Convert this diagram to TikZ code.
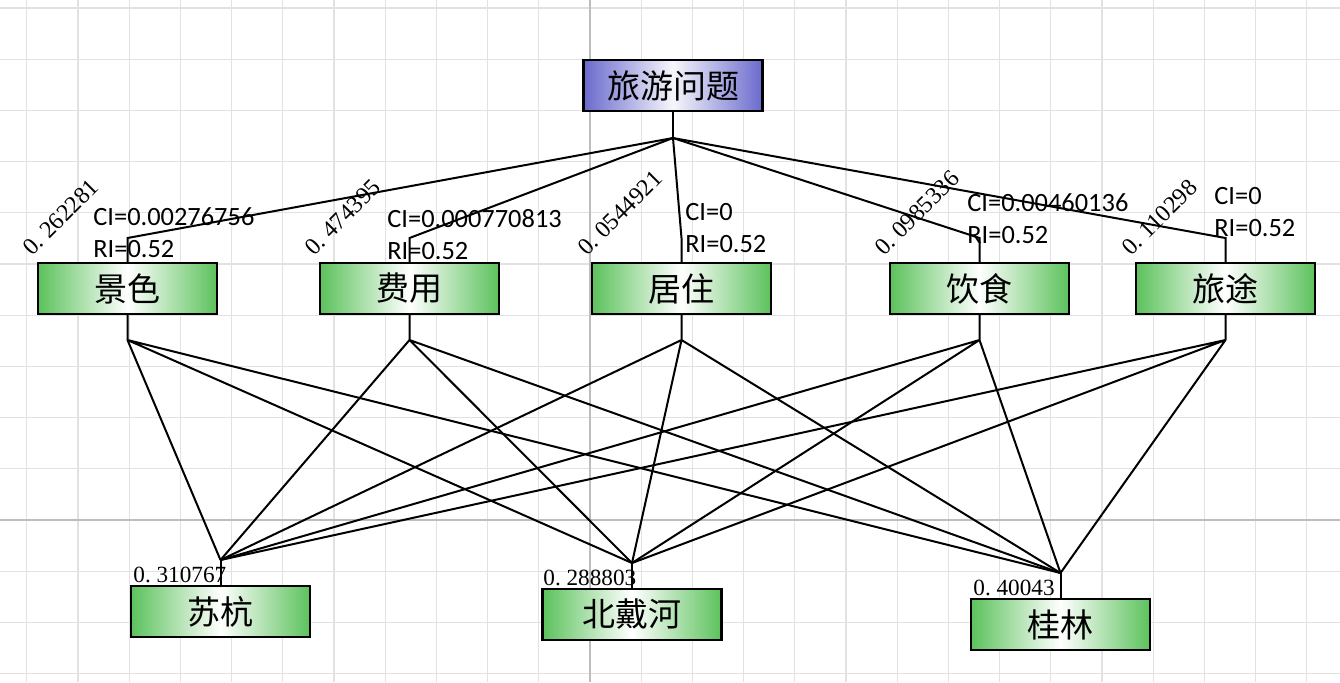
\documentclass[tikz,border=0pt]{standalone}
\usepackage{fontspec}
\usepackage{xcolor}
\newfontfamily\cjk{Noto Sans CJK SC}
\newfontfamily\calib{Carlito}
\newfontfamily\numfont{Liberation Serif}
\definecolor{boxGreen}{HTML}{5CC25C}
\definecolor{boxBlue}{HTML}{6A6ACD}
\definecolor{gridLight}{HTML}{E2E2E2}
\definecolor{gridDark}{HTML}{BDBDBD}

\tikzset{
  goalbox/.style={draw, line width=1.2pt, minimum width=89.5pt, minimum height=25.5pt,
    left color=boxBlue, right color=boxBlue, middle color=boxBlue!6,
    font=\cjk\fontsize{16.5}{18}\selectfont},
  critbox/.style={draw, line width=1.2pt, minimum width=89.5pt, minimum height=25.5pt,
    left color=boxGreen, right color=boxGreen, middle color=white,
    font=\cjk\fontsize{16.5}{18}\selectfont},
  link/.style={line width=1pt},
  consist/.style={anchor=west, inner sep=0pt, align=left,
    font=\calib\fontsize{13.2}{16}\selectfont},
  weight/.style={anchor=base west, inner sep=0pt, rotate=45,
    font=\numfont\fontsize{12}{13}\selectfont},
  score/.style={anchor=base west, inner sep=0pt,
    font=\numfont\fontsize{11.6}{13}\selectfont}
}

\begin{document}
\begin{tikzpicture}[x=0.5pt, y=-0.5pt]
    \useasboundingbox (0,0) rectangle (1340,682);

    % Background grid
    \foreach \k in {0,...,25}
      \draw[gridLight, line width=0.6pt] ({26.8+51.2*\k},0) -- ({26.8+51.2*\k},682);
    \foreach \k in {0,...,13}
      \draw[gridLight, line width=0.6pt] (0,{8+51.2*\k}) -- (1340,{8+51.2*\k});
    \draw[gridDark, line width=0.6pt] (590,0) -- (590,682);
    \draw[gridDark, line width=0.6pt] (0,520) -- (1340,520);

    % Goal
    \node[goalbox] (goal) at (673,85.5) {旅游问题};
    \coordinate (goalJ) at (673,138);

    % Criteria
    \node[critbox] (scenery) at (127.5,288.5) {景色};
    \node[critbox] (cost)    at (409.5,288.5) {费用};
    \node[critbox] (stay)    at (681.5,288.5) {居住};
    \node[critbox] (food)    at (979.5,288.5) {饮食};
    \node[critbox] (travel)  at (1225.5,288.5) {旅途};

    \coordinate (sceneryT) at (127.5,238);
    \coordinate (costT)    at (409.5,238);
    \coordinate (stayT)    at (681.5,238);
    \coordinate (foodT)    at (979.5,238);
    \coordinate (travelT)  at (1225.5,238);
    \coordinate (sceneryB) at (127.5,340);
    \coordinate (costB)    at (409.5,340);
    \coordinate (stayB)    at (681.5,340);
    \coordinate (foodB)    at (979.5,340);
    \coordinate (travelB)  at (1225.5,340);

    % Alternatives
    \node[critbox] (suhang)  at (220.5,611.5) {苏杭};
    \node[critbox] (beidai)  at (632,614.5) {北戴河};
    \node[critbox] (guilin)  at (1060.5,624.5) {桂林};

    \coordinate (suhangT) at (220.5,560);
    \coordinate (beidaiT) at (632,563);
    \coordinate (guilinT) at (1060.5,573);

    % Goal to criteria
    \draw[link] (goal.south) -- (goalJ);
    \draw[link] (goalJ) -- (sceneryT) -- (scenery.north);
    \draw[link] (goalJ) -- (costT) -- (cost.north);
    \draw[link] (goalJ) -- (stayT) -- (stay.north);
    \draw[link] (goalJ) -- (foodT) -- (food.north);
    \draw[link] (goalJ) -- (travelT) -- (travel.north);

    % Criteria to alternatives
    \draw[link] (scenery.south) -- (sceneryB) (sceneryB) -- (suhangT) (sceneryB) -- (beidaiT) (sceneryB) -- (guilinT);
    \draw[link] (cost.south) -- (costB) (costB) -- (suhangT) (costB) -- (beidaiT) (costB) -- (guilinT);
    \draw[link] (stay.south) -- (stayB) (stayB) -- (suhangT) (stayB) -- (beidaiT) (stayB) -- (guilinT);
    \draw[link] (food.south) -- (foodB) (foodB) -- (suhangT) (foodB) -- (beidaiT) (foodB) -- (guilinT);
    \draw[link] (travel.south) -- (travelB) (travelB) -- (suhangT) (travelB) -- (beidaiT) (travelB) -- (guilinT);
    \draw[link] (suhangT) -- (suhang.north);
    \draw[link] (beidaiT) -- (beidai.north);
    \draw[link] (guilinT) -- (guilin.north);

    % Consistency checks
    \node[consist] (ciScenery) at (93,232.5) {CI=0.00276756\\RI=0.52};
    \node[consist] (ciCost)    at (387,234.5) {CI=0.000770813\\RI=0.52};
    \node[consist] (ciStay)    at (685,228) {CI=0\\RI=0.52};
    \node[consist] (ciFood)    at (967,218.5) {CI=0.00460136\\RI=0.52};
    \node[consist] (ciTravel)  at (1214,212) {CI=0\\RI=0.52};

    % Criterion weights
    \node[weight] (wScenery) at (32,257) {0.\ 262281};
    \node[weight] (wCost)    at (314,257) {0.\ 474395};
    \node[weight] (wStay)    at (587,257) {0.\ 0544921};
    \node[weight] (wFood)    at (884,257) {0.\ 0985336};
    \node[weight] (wTravel)  at (1131,257) {0.\ 110298};

    % Final scores
    \node[score] (sSuhang) at (133,582) {0.\ 310767};
    \node[score] (sBeidai) at (543,585) {0.\ 288803};
    \node[score] (sGuilin) at (973,595) {0.\ 40043};
\end{tikzpicture}
\end{document}
